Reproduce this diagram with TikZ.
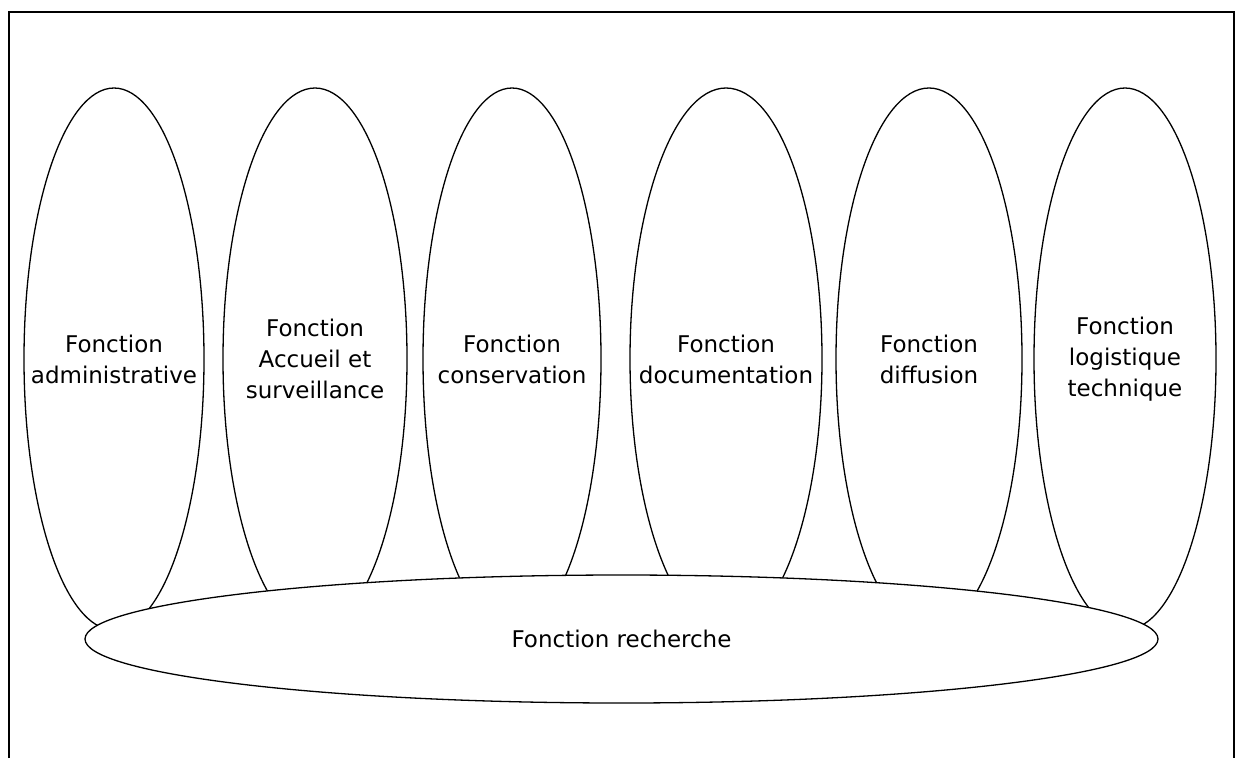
\documentclass[tikz,border=0pt]{standalone}
\usepackage{fontspec}
\setmainfont{DejaVu Sans}
\usetikzlibrary{shapes.geometric}
\tikzset{fonction/.style = {shape=ellipse,draw,line width=1.3pt,inner sep=0pt,
    minimum height=542pt}}
\tikzset{texte/.style = {align=center,inner sep=0pt,font=\fontsize{23}{31}\selectfont}}
\tikzset{recherche/.style = {shape=ellipse,draw,fill=white,line width=1.3pt,inner sep=0pt,
    minimum width=1073pt,minimum height=128pt,font=\fontsize{23}{31}\selectfont}}
\tikzset{cadre/.style = {draw,line width=2pt}}

\begin{document}
\begin{tikzpicture}[x=1pt,y=-1pt]
            \useasboundingbox (0,0) rectangle (1241,758);
            \draw[cadre] (9,758) -- (9,12) -- (1234,12) -- (1234,758);
            \node[fonction,minimum width=180pt] (admin) at (114,359) {};
            \node[texte] (admin-t) at (admin) {Fonction\\administrative};
            \node[fonction,minimum width=184pt] (accueil) at (315,359) {};
            \node[texte] (accueil-t) at (accueil) {Fonction\\Accueil et\\surveillance};
            \node[fonction,minimum width=178pt] (conserv) at (512,359) {};
            \node[texte] (conserv-t) at (conserv) {Fonction\\conservation};
            \node[fonction,minimum width=192pt] (docu) at (726,359) {};
            \node[texte] (docu-t) at (docu) {Fonction\\documentation};
            \node[fonction,minimum width=186pt] (diffu) at (929,359) {};
            \node[texte] (diffu-t) at (diffu) {Fonction\\diffusion};
            \node[fonction,minimum width=182pt] (logis) at (1125,359) {};
            \node[texte] (logis-t) at (logis) {Fonction\\logistique\\technique};
            \node[recherche] (rech) at (621.5,639) {Fonction recherche};
        \end{tikzpicture}
\end{document}
